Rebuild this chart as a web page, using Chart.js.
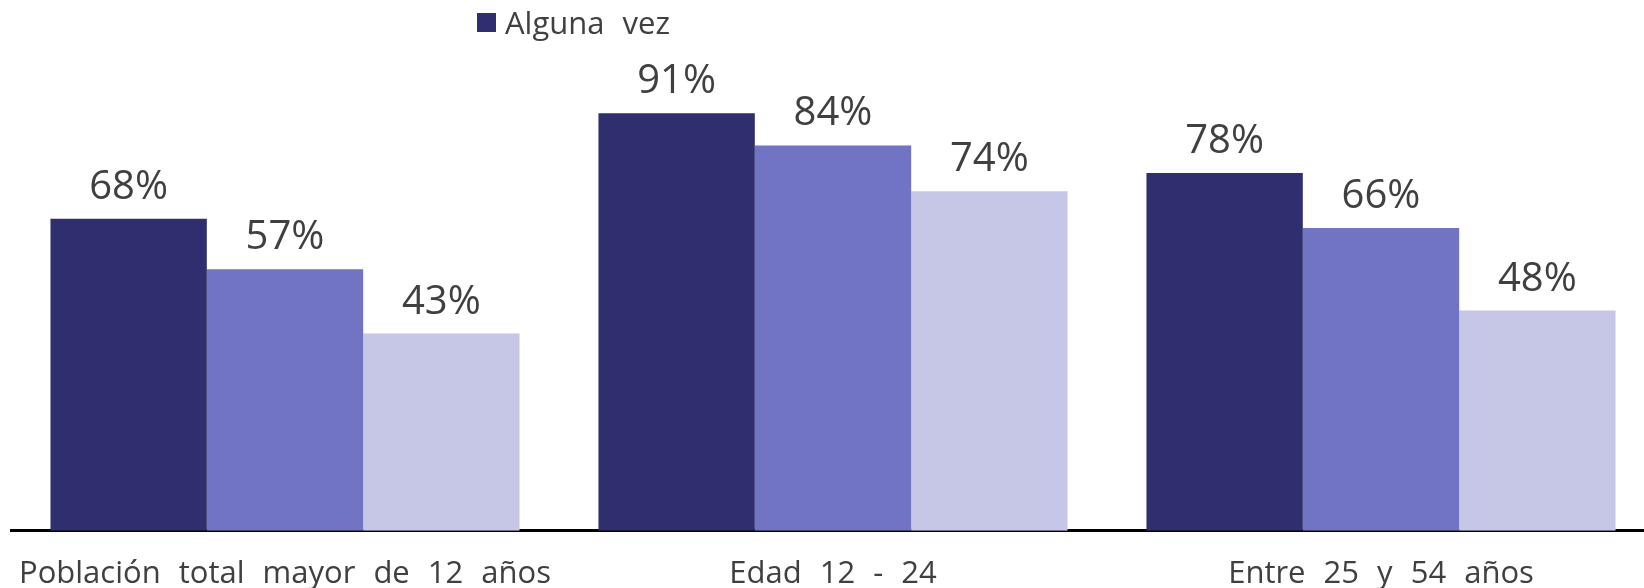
<!DOCTYPE html>
<html>
<head>
<meta charset="utf-8">
<script src="https://cdn.jsdelivr.net/npm/chart.js@4/dist/chart.umd.min.js"></script>
<style>
  html, body { margin: 0; padding: 0; background: #fff; overflow: hidden; }
  #wrap { width: 1644px; height: 588px; overflow: hidden; position: relative; }
  canvas { display: block; }
</style>
</head>
<body>
<div id="wrap"><canvas id="c" width="1656" height="588"></canvas></div>
<script>
const categories = ["Población total mayor de 12 años", "Edad 12 - 24", "Entre 25 y 54 años"];
const seriesNames = ["Alguna vez", "Último año", "Último mes"];
const algunaVez = [68, 91, 78];
const ultimoAnio = [57, 84, 66];
const ultimoMes = [43, 74, 48];
const colors = ["#2F2E6E", "#7173C3", "#C6C6E7"];
const textColor = "#404040";
const FONT = "'Open Sans', 'DejaVu Sans', sans-serif";

const spacingPlugin = {
  id: 'spacing',
  beforeInit(chart) { try { chart.ctx.wordSpacing = '10px'; } catch (e) {} },
  beforeUpdate(chart) { try { chart.ctx.wordSpacing = '10px'; } catch (e) {} },
  beforeDraw(chart) { try { chart.ctx.wordSpacing = '10px'; } catch (e) {} }
};

const valueLabels = {
  id: 'valueLabels',
  afterDatasetsDraw(chart) {
    const ctx = chart.ctx;
    ctx.save();
    ctx.font = "40px " + FONT;
    ctx.fillStyle = textColor;
    ctx.textAlign = 'center';
    ctx.textBaseline = 'alphabetic';
    chart.data.datasets.forEach((ds, i) => {
      const meta = chart.getDatasetMeta(i);
      meta.data.forEach((bar, j) => {
        ctx.fillText(ds.data[j] + '%', bar.x, bar.y - 20);
      });
    });
    ctx.restore();
  }
};

const oneLegend = {
  id: 'oneLegend',
  afterDraw(chart) {
    const ctx = chart.ctx;
    const ds = chart.data.datasets[0];
    ctx.save();
    ctx.fillStyle = ds.backgroundColor;
    ctx.fillRect(477, 13, 19, 19);
    ctx.font = "31px " + FONT;
    ctx.fillStyle = textColor;
    ctx.textAlign = 'left';
    ctx.textBaseline = 'alphabetic';
    ctx.fillText(ds.label, 505, 34);
    ctx.restore();
  }
};

new Chart(document.getElementById('c'), {
  type: 'bar',
  data: {
    labels: categories,
    datasets: [
      { label: seriesNames[0], data: algunaVez, backgroundColor: colors[0] },
      { label: seriesNames[1], data: ultimoAnio, backgroundColor: colors[1] },
      { label: seriesNames[2], data: ultimoMes, backgroundColor: colors[2] }
    ]
  },
  options: {
    responsive: false,
    animation: false,
    devicePixelRatio: 1,
    layout: { padding: { top: 72, left: 11, right: 1, bottom: -30 } },
    datasets: { bar: { categoryPercentage: 0.856, barPercentage: 1.0 } },
    plugins: { legend: { display: false }, tooltip: { enabled: false } },
    scales: {
      x: {
        grid: { display: false, drawTicks: false },
        border: { display: true, color: '#000', width: 3 },
        ticks: { color: textColor, font: { family: FONT, size: 31 }, padding: 25, maxRotation: 0, autoSkip: false },
        afterFit(scale) { scale.paddingLeft = 0; scale.paddingRight = 0; }
      },
      y: { display: false, min: 0, max: 100 }
    }
  },
  plugins: [spacingPlugin, valueLabels, oneLegend]
});
</script>
</body>
</html>
